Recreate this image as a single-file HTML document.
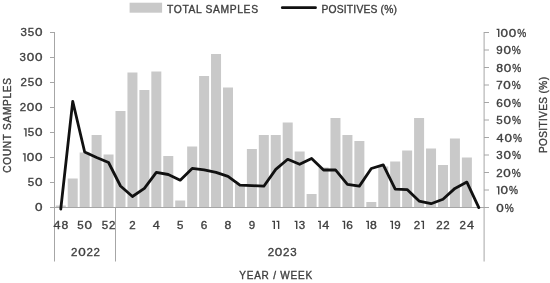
<!DOCTYPE html><html><head><meta charset="utf-8"><style>
html,body{margin:0;padding:0;background:#fff;overflow:hidden;width:550px;height:283px;}
svg{display:block;filter:grayscale(1) blur(0.25px);}
text{font-family:"Liberation Sans",sans-serif;fill:#3f3f3f;stroke:#3f3f3f;stroke-width:0.35px;}
</style></head><body>
<svg width="550" height="283" viewBox="0 0 550 283">
<rect x="55.77" y="205.50" width="10.0" height="2.00" fill="#c9c9c9"/>
<rect x="67.72" y="178.50" width="10.0" height="29.00" fill="#c9c9c9"/>
<rect x="79.66" y="152.50" width="10.0" height="55.00" fill="#c9c9c9"/>
<rect x="91.60" y="135.00" width="10.0" height="72.50" fill="#c9c9c9"/>
<rect x="103.55" y="154.50" width="10.0" height="53.00" fill="#c9c9c9"/>
<rect x="115.49" y="111.00" width="10.0" height="96.50" fill="#c9c9c9"/>
<rect x="127.44" y="72.50" width="10.0" height="135.00" fill="#c9c9c9"/>
<rect x="139.38" y="90.00" width="10.0" height="117.50" fill="#c9c9c9"/>
<rect x="151.32" y="71.50" width="10.0" height="136.00" fill="#c9c9c9"/>
<rect x="163.27" y="156.00" width="10.0" height="51.50" fill="#c9c9c9"/>
<rect x="175.21" y="200.50" width="10.0" height="7.00" fill="#c9c9c9"/>
<rect x="187.16" y="146.50" width="10.0" height="61.00" fill="#c9c9c9"/>
<rect x="199.10" y="76.00" width="10.0" height="131.50" fill="#c9c9c9"/>
<rect x="211.04" y="54.00" width="10.0" height="153.50" fill="#c9c9c9"/>
<rect x="222.99" y="87.50" width="10.0" height="120.00" fill="#c9c9c9"/>
<rect x="234.93" y="184.00" width="10.0" height="23.50" fill="#c9c9c9"/>
<rect x="246.88" y="149.00" width="10.0" height="58.50" fill="#c9c9c9"/>
<rect x="258.82" y="135.00" width="10.0" height="72.50" fill="#c9c9c9"/>
<rect x="270.76" y="135.00" width="10.0" height="72.50" fill="#c9c9c9"/>
<rect x="282.71" y="122.50" width="10.0" height="85.00" fill="#c9c9c9"/>
<rect x="294.65" y="151.50" width="10.0" height="56.00" fill="#c9c9c9"/>
<rect x="306.60" y="194.00" width="10.0" height="13.50" fill="#c9c9c9"/>
<rect x="318.54" y="167.50" width="10.0" height="40.00" fill="#c9c9c9"/>
<rect x="330.48" y="118.00" width="10.0" height="89.50" fill="#c9c9c9"/>
<rect x="342.43" y="135.00" width="10.0" height="72.50" fill="#c9c9c9"/>
<rect x="354.37" y="141.00" width="10.0" height="66.50" fill="#c9c9c9"/>
<rect x="366.32" y="202.00" width="10.0" height="5.50" fill="#c9c9c9"/>
<rect x="378.26" y="166.50" width="10.0" height="41.00" fill="#c9c9c9"/>
<rect x="390.20" y="161.50" width="10.0" height="46.00" fill="#c9c9c9"/>
<rect x="402.15" y="150.50" width="10.0" height="57.00" fill="#c9c9c9"/>
<rect x="414.09" y="118.00" width="10.0" height="89.50" fill="#c9c9c9"/>
<rect x="426.04" y="148.50" width="10.0" height="59.00" fill="#c9c9c9"/>
<rect x="437.98" y="165.00" width="10.0" height="42.50" fill="#c9c9c9"/>
<rect x="449.92" y="138.50" width="10.0" height="69.00" fill="#c9c9c9"/>
<rect x="461.87" y="157.50" width="10.0" height="50.00" fill="#c9c9c9"/>
<line x1="54.5" y1="32" x2="54.5" y2="261.5" stroke="#a6a6a6" stroke-width="1"/>
<line x1="484.1" y1="32" x2="484.1" y2="261.5" stroke="#a6a6a6" stroke-width="1"/>
<line x1="115.5" y1="207" x2="115.5" y2="261.5" stroke="#a6a6a6" stroke-width="1"/>
<line x1="54" y1="207.5" x2="485" y2="207.5" stroke="#a6a6a6" stroke-width="1"/>
<line x1="50" y1="207.50" x2="55" y2="207.50" stroke="#a6a6a6" stroke-width="1"/>
<text transform="translate(35.07,211.30) scale(1.17,1)" font-size="11.5">0</text>
<line x1="50" y1="182.50" x2="55" y2="182.50" stroke="#a6a6a6" stroke-width="1"/>
<text x="27.83" y="186.30" font-size="11.5">5</text>
<text transform="translate(35.07,186.30) scale(1.17,1)" font-size="11.5">0</text>
<line x1="50" y1="157.50" x2="55" y2="157.50" stroke="#a6a6a6" stroke-width="1"/>
<path d="M22.84,153.21h2.80v8.26h-1.35v-7.01h-1.45z" fill="#3f3f3f"/>
<text transform="translate(26.79,161.30) scale(1.17,1)" font-size="11.5">0</text>
<text transform="translate(35.07,161.30) scale(1.17,1)" font-size="11.5">0</text>
<line x1="50" y1="132.50" x2="55" y2="132.50" stroke="#a6a6a6" stroke-width="1"/>
<path d="M23.82,128.21h2.80v8.26h-1.35v-7.01h-1.45z" fill="#3f3f3f"/>
<text x="27.83" y="136.30" font-size="11.5">5</text>
<text transform="translate(35.07,136.30) scale(1.17,1)" font-size="11.5">0</text>
<line x1="50" y1="107.50" x2="55" y2="107.50" stroke="#a6a6a6" stroke-width="1"/>
<text x="19.64" y="111.30" font-size="11.5">2</text>
<text transform="translate(26.79,111.30) scale(1.17,1)" font-size="11.5">0</text>
<text transform="translate(35.07,111.30) scale(1.17,1)" font-size="11.5">0</text>
<line x1="50" y1="82.50" x2="55" y2="82.50" stroke="#a6a6a6" stroke-width="1"/>
<text x="20.62" y="86.30" font-size="11.5">2</text>
<text x="27.83" y="86.30" font-size="11.5">5</text>
<text transform="translate(35.07,86.30) scale(1.17,1)" font-size="11.5">0</text>
<line x1="50" y1="57.50" x2="55" y2="57.50" stroke="#a6a6a6" stroke-width="1"/>
<text x="19.57" y="61.30" font-size="11.5">3</text>
<text transform="translate(26.79,61.30) scale(1.17,1)" font-size="11.5">0</text>
<text transform="translate(35.07,61.30) scale(1.17,1)" font-size="11.5">0</text>
<line x1="50" y1="32.50" x2="55" y2="32.50" stroke="#a6a6a6" stroke-width="1"/>
<text x="20.55" y="36.30" font-size="11.5">3</text>
<text x="27.83" y="36.30" font-size="11.5">5</text>
<text transform="translate(35.07,36.30) scale(1.17,1)" font-size="11.5">0</text>
<line x1="484" y1="207.50" x2="489" y2="207.50" stroke="#a6a6a6" stroke-width="1"/>
<text transform="translate(496.25,211.80) scale(1.17,1)" font-size="11.5">0</text>
<text transform="translate(504.70,211.80) scale(0.88,1)" font-size="11.5">%</text>
<line x1="484" y1="190.00" x2="489" y2="190.00" stroke="#a6a6a6" stroke-width="1"/>
<path d="M496.60,186.21h2.80v8.26h-1.35v-7.01h-1.45z" fill="#3f3f3f"/>
<text transform="translate(500.55,194.30) scale(1.17,1)" font-size="11.5">0</text>
<text transform="translate(509.00,194.30) scale(0.88,1)" font-size="11.5">%</text>
<line x1="484" y1="172.50" x2="489" y2="172.50" stroke="#a6a6a6" stroke-width="1"/>
<text x="496.20" y="176.80" font-size="11.5">2</text>
<text transform="translate(503.34,176.80) scale(1.17,1)" font-size="11.5">0</text>
<text transform="translate(511.79,176.80) scale(0.88,1)" font-size="11.5">%</text>
<line x1="484" y1="155.00" x2="489" y2="155.00" stroke="#a6a6a6" stroke-width="1"/>
<text x="496.34" y="159.30" font-size="11.5">3</text>
<text transform="translate(503.55,159.30) scale(1.17,1)" font-size="11.5">0</text>
<text transform="translate(512.00,159.30) scale(0.88,1)" font-size="11.5">%</text>
<line x1="484" y1="137.50" x2="489" y2="137.50" stroke="#a6a6a6" stroke-width="1"/>
<text transform="translate(496.48,141.80) scale(1.1,1)" font-size="11.5">4</text>
<text transform="translate(504.47,141.80) scale(1.17,1)" font-size="11.5">0</text>
<text transform="translate(512.92,141.80) scale(0.88,1)" font-size="11.5">%</text>
<line x1="484" y1="120.00" x2="489" y2="120.00" stroke="#a6a6a6" stroke-width="1"/>
<text x="496.31" y="124.30" font-size="11.5">5</text>
<text transform="translate(503.55,124.30) scale(1.17,1)" font-size="11.5">0</text>
<text transform="translate(512.00,124.30) scale(0.88,1)" font-size="11.5">%</text>
<line x1="484" y1="102.50" x2="489" y2="102.50" stroke="#a6a6a6" stroke-width="1"/>
<text transform="translate(496.17,106.80) scale(1.03,1)" font-size="11.5">6</text>
<text transform="translate(503.57,106.80) scale(1.17,1)" font-size="11.5">0</text>
<text transform="translate(512.01,106.80) scale(0.88,1)" font-size="11.5">%</text>
<line x1="484" y1="85.00" x2="489" y2="85.00" stroke="#a6a6a6" stroke-width="1"/>
<text x="496.19" y="89.30" font-size="11.5">7</text>
<text transform="translate(503.33,89.30) scale(1.17,1)" font-size="11.5">0</text>
<text transform="translate(511.77,89.30) scale(0.88,1)" font-size="11.5">%</text>
<line x1="484" y1="67.50" x2="489" y2="67.50" stroke="#a6a6a6" stroke-width="1"/>
<text transform="translate(496.25,71.80) scale(1.06,1)" font-size="11.5">8</text>
<text transform="translate(503.82,71.80) scale(1.17,1)" font-size="11.5">0</text>
<text transform="translate(512.27,71.80) scale(0.88,1)" font-size="11.5">%</text>
<line x1="484" y1="50.00" x2="489" y2="50.00" stroke="#a6a6a6" stroke-width="1"/>
<text x="496.24" y="54.30" font-size="11.5">9</text>
<text transform="translate(503.41,54.30) scale(1.17,1)" font-size="11.5">0</text>
<text transform="translate(511.86,54.30) scale(0.88,1)" font-size="11.5">%</text>
<line x1="484" y1="32.50" x2="489" y2="32.50" stroke="#a6a6a6" stroke-width="1"/>
<path d="M496.60,28.71h2.80v8.26h-1.35v-7.01h-1.45z" fill="#3f3f3f"/>
<text transform="translate(500.55,36.80) scale(1.17,1)" font-size="11.5">0</text>
<text transform="translate(508.83,36.80) scale(1.17,1)" font-size="11.5">0</text>
<text transform="translate(517.28,36.80) scale(0.88,1)" font-size="11.5">%</text>
<text transform="translate(53.51,228.80) scale(1.1,1)" font-size="11.5">4</text>
<text transform="translate(61.49,228.80) scale(1.06,1)" font-size="11.5">8</text>
<text x="77.33" y="228.80" font-size="11.5">5</text>
<text transform="translate(84.57,228.80) scale(1.17,1)" font-size="11.5">0</text>
<text x="101.82" y="228.80" font-size="11.5">5</text>
<text x="109.00" y="228.80" font-size="11.5">2</text>
<text x="129.24" y="228.80" font-size="11.5">2</text>
<text transform="translate(152.85,228.80) scale(1.1,1)" font-size="11.5">4</text>
<text x="177.03" y="228.80" font-size="11.5">5</text>
<text transform="translate(200.77,228.80) scale(1.03,1)" font-size="11.5">6</text>
<text transform="translate(224.60,228.80) scale(1.06,1)" font-size="11.5">8</text>
<text x="248.68" y="228.80" font-size="11.5">9</text>
<path d="M272.21,220.71h2.80v8.26h-1.35v-7.01h-1.45z" fill="#3f3f3f"/>
<path d="M276.51,220.71h2.80v8.26h-1.35v-7.01h-1.45z" fill="#3f3f3f"/>
<path d="M294.60,220.71h2.80v8.26h-1.35v-7.01h-1.45z" fill="#3f3f3f"/>
<text x="298.64" y="228.80" font-size="11.5">3</text>
<path d="M318.03,220.71h2.80v8.26h-1.35v-7.01h-1.45z" fill="#3f3f3f"/>
<text transform="translate(322.21,228.80) scale(1.1,1)" font-size="11.5">4</text>
<path d="M342.37,220.71h2.80v8.26h-1.35v-7.01h-1.45z" fill="#3f3f3f"/>
<text transform="translate(346.24,228.80) scale(1.03,1)" font-size="11.5">6</text>
<path d="M366.13,220.71h2.80v8.26h-1.35v-7.01h-1.45z" fill="#3f3f3f"/>
<text transform="translate(370.08,228.80) scale(1.06,1)" font-size="11.5">8</text>
<path d="M390.22,220.71h2.80v8.26h-1.35v-7.01h-1.45z" fill="#3f3f3f"/>
<text x="394.16" y="228.80" font-size="11.5">9</text>
<text x="413.74" y="228.80" font-size="11.5">2</text>
<path d="M421.24,220.71h2.80v8.26h-1.35v-7.01h-1.45z" fill="#3f3f3f"/>
<text x="436.24" y="228.80" font-size="11.5">2</text>
<text x="443.33" y="228.80" font-size="11.5">2</text>
<text x="459.56" y="228.80" font-size="11.5">2</text>
<text transform="translate(466.93,228.80) scale(1.1,1)" font-size="11.5">4</text>
<text x="71.07" y="255.80" font-size="11.5">2</text>
<text transform="translate(78.21,255.80) scale(1.17,1)" font-size="11.5">0</text>
<text x="86.44" y="255.80" font-size="11.5">2</text>
<text x="93.53" y="255.80" font-size="11.5">2</text>
<text x="267.67" y="255.80" font-size="11.5">2</text>
<text transform="translate(274.81,255.80) scale(1.17,1)" font-size="11.5">0</text>
<text x="283.04" y="255.80" font-size="11.5">2</text>
<text x="290.27" y="255.80" font-size="11.5">3</text>
<text x="239.2" y="279.1" font-size="10.0" textLength="73" lengthAdjust="spacing">YEAR / WEEK</text>
<text transform="translate(10.9,125.4) rotate(-90)" font-size="10.0" text-anchor="middle" textLength="94.5" lengthAdjust="spacing">COUNT SAMPLES</text>
<text transform="translate(547.3,115.0) rotate(-90)" font-size="10.0" text-anchor="middle" textLength="76" lengthAdjust="spacing">POSITIVES (%)</text>
<rect x="129.6" y="2.7" width="32.5" height="10" fill="#c9c9c9"/>
<text x="167" y="12.8" font-size="10.3" textLength="91" lengthAdjust="spacing">TOTAL SAMPLES</text>
<line x1="282.3" y1="7.7" x2="315.5" y2="7.7" stroke="#111" stroke-width="2.8" stroke-linecap="round"/>
<text x="321.5" y="12.9" font-size="10.3" textLength="75.5" lengthAdjust="spacing">POSITIVES (%)</text>
<polyline points="60.77,209.00 72.72,101.30 84.66,152.00 96.60,157.50 108.55,162.50 120.49,186.00 132.44,196.50 144.38,188.40 156.32,172.40 168.27,174.50 180.21,180.20 192.16,168.40 204.10,169.80 216.04,172.30 227.99,176.30 239.93,185.20 251.88,185.60 263.82,186.20 275.76,169.40 287.71,159.30 299.65,164.30 311.60,158.40 323.54,170.00 335.48,169.90 347.43,184.30 359.37,186.10 371.32,168.50 383.26,164.90 395.20,189.20 407.15,189.60 419.09,201.10 431.04,203.70 442.98,199.30 454.92,188.40 466.87,182.10 478.81,207.60" fill="none" stroke="#111" stroke-width="2.8" stroke-linejoin="round" stroke-linecap="round"/>
</svg></body></html>
